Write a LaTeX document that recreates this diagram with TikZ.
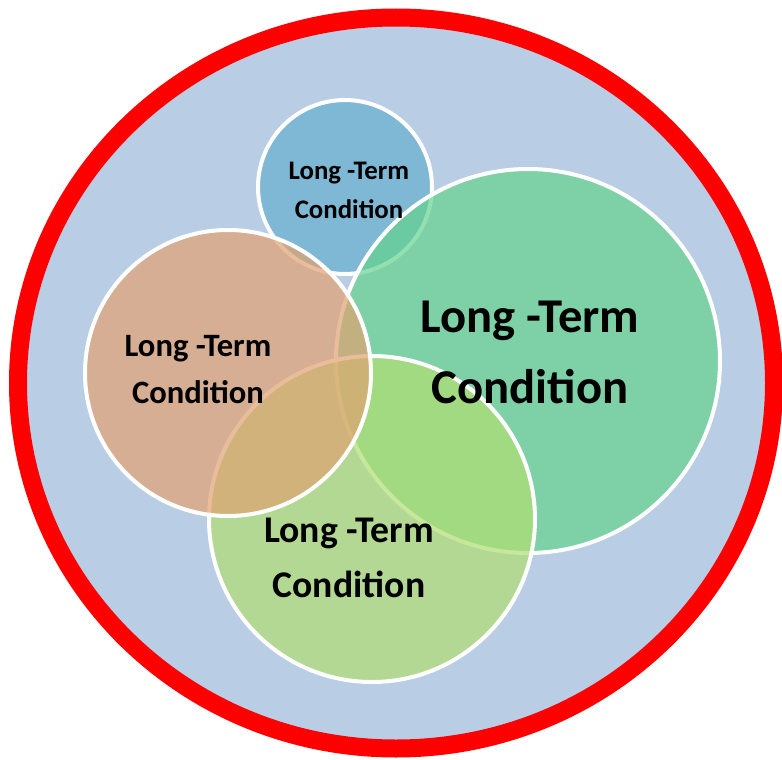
\documentclass[tikz,border=0pt]{standalone}
\usepackage{fontspec}
\setmainfont{Carlito}
\usepackage{xcolor}
\definecolor{ringred}{RGB}{255,0,0}
\definecolor{backblue}{RGB}{185,205,229}
\definecolor{ltcblue}{RGB}{102,176,205}
\definecolor{ltcgreen}{RGB}{101,211,142}
\definecolor{ltclime}{RGB}{176,222,113}
\definecolor{ltcbrown}{RGB}{225,162,113}

\begin{document}
\begin{tikzpicture}[x=1pt,y=-1pt,
  ltc/.style={draw=white,line width=4pt,fill opacity=0.7},
  ltctext/.style={align=center,inner sep=0pt}]
\useasboundingbox (0,0) rectangle (782,760);
\draw[ringred,line width=18pt,fill=backblue] (396,383) ellipse [x radius=378pt,y radius=365.5pt];
\draw[ltc,fill=ltcblue] (345,187) circle [radius=87pt];
\draw[ltc,fill=ltcgreen] (528,361) circle [radius=192pt];
\draw[ltc,fill=ltclime] (372,519) circle [radius=163pt];
\draw[ltc,fill=ltcbrown] (228,373) circle [radius=143pt];
\node[ltctext,font=\bfseries\fontsize{26.8}{39}\selectfont] (small) at (349,190) {Long -Term\\Condition};
\node[ltctext,font=\bfseries\fontsize{48.6}{71}\selectfont] (big) at (530,352) {Long -Term\\Condition};
\node[ltctext,font=\bfseries\fontsize{32.6}{47}\selectfont] (left) at (198,370) {Long -Term\\Condition};
\node[ltctext,font=\bfseries\fontsize{37.7}{55}\selectfont] (bottom) at (349,558) {Long -Term\\Condition};
\end{tikzpicture}
\end{document}
